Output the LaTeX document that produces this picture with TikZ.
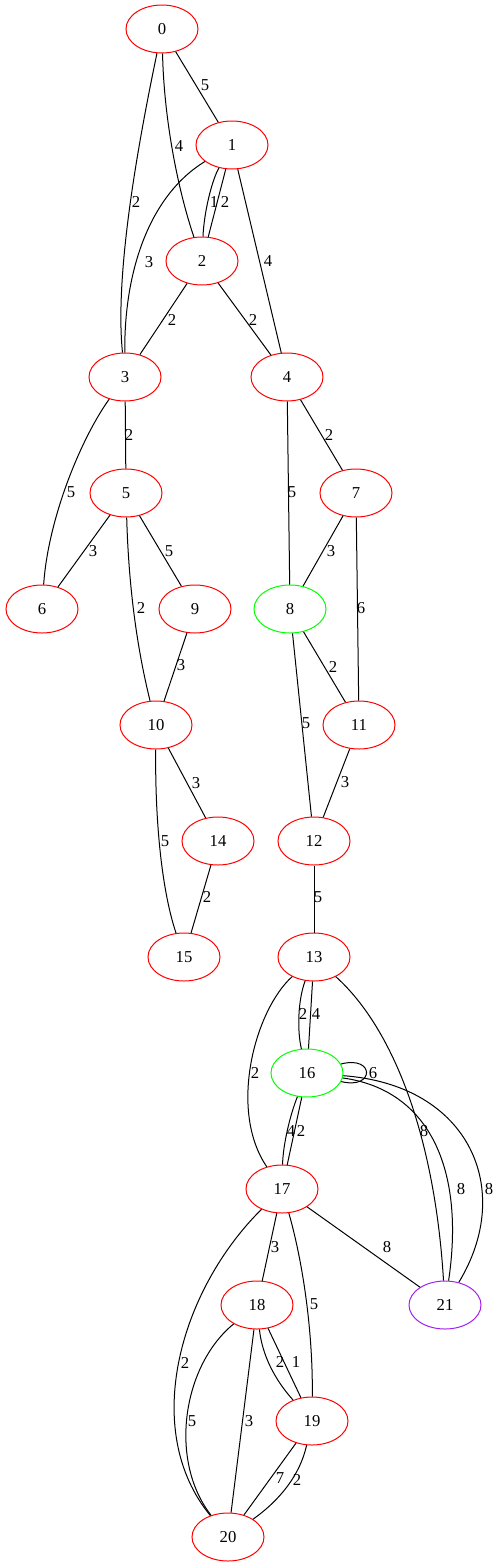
\documentclass[tikz,border=0pt]{standalone}
\usepackage{fontspec}
\setmainfont{Liberation Serif}
\usetikzlibrary{shapes.geometric}
\definecolor{gvred}{HTML}{FF0000}
\definecolor{gvgreen}{HTML}{00FF00}
\definecolor{gvpurple}{HTML}{A020F0}
\tikzset{
  vtx/.style={ellipse, draw=gvred, line width=0.75pt, minimum width=54pt, minimum height=36pt, inner sep=0pt, font=\fontsize{12.5}{14}\selectfont},
  grn/.style={vtx, draw=gvgreen},
  pur/.style={vtx, draw=gvpurple},
  lbl/.style={inner sep=0pt, font=\fontsize{12.5}{14}\selectfont},
  edge/.style={line width=0.75pt, black}
}
\begin{document}
\begin{tikzpicture}[x=0.75pt,y=-0.75pt]
\useasboundingbox (0,0) rectangle (500,1567);
% nodes
\node[vtx] (n0) at (162,29) {0};
\node[vtx] (n1) at (232,145) {1};
\node[vtx] (n2) at (202,261) {2};
\node[vtx] (n3) at (125,377) {3};
\node[vtx] (n4) at (287,377) {4};
\node[vtx] (n5) at (126,493) {5};
\node[vtx] (n7) at (356,493) {7};
\node[vtx] (n6) at (42,609) {6};
\node[vtx] (n9) at (195,609) {9};
\node[grn] (n8) at (290,609) {8};
\node[vtx] (n10) at (156,725) {10};
\node[vtx] (n11) at (359,725) {11};
\node[vtx] (n14) at (218,841) {14};
\node[vtx] (n12) at (314,841) {12};
\node[vtx] (n15) at (184,957) {15};
\node[vtx] (n13) at (314,957) {13};
\node[grn] (n16) at (307,1073) {16};
\node[vtx] (n17) at (282,1189) {17};
\node[vtx] (n18) at (257,1305) {18};
\node[pur] (n21) at (445,1305) {21};
\node[vtx] (n19) at (312,1421) {19};
\node[vtx] (n20) at (228,1537) {20};
% edges
\draw[edge] (n0) -- (n1) node[lbl] at (205,85) {5};
\draw[edge] (n0) .. controls (164,120) and (178,190) .. (n2) node[lbl] at (179,146) {4};
\draw[edge] (n0) .. controls (141,130) and (114,270) .. (n3) node[lbl] at (136,202) {2};
\draw[edge] (n1) .. controls (212,180) and (204,212) .. (n2) node[lbl] at (214,202) {1};
\draw[edge] (n1) -- (n2) node[lbl] at (225,202) {2};
\draw[edge] (n1) .. controls (150,195) and (124,270) .. (n3) node[lbl] at (149,262) {3};
\draw[edge] (n1) -- (n4) node[lbl] at (268,261) {4};
\draw[edge] (n2) -- (n3) node[lbl] at (172,320) {2};
\draw[edge] (n2) -- (n4) node[lbl] at (253,320) {2};
\draw[edge] (n3) -- (n5) node[lbl] at (129,435) {2};
\draw[edge] (n3) .. controls (80,440) and (48,520) .. (n6) node[lbl] at (71,492) {5};
\draw[edge] (n5) -- (n6) node[lbl] at (93,551) {3};
\draw[edge] (n5) -- (n9) node[lbl] at (169,551) {5};
\draw[edge] (n5) .. controls (129,600) and (140,660) .. (n10) node[lbl] at (141,608) {2};
\draw[edge] (n9) -- (n10) node[lbl] at (181,665) {3};
\draw[edge] (n4) -- (n7) node[lbl] at (329,435) {2};
\draw[edge] (n4) -- (n8) node[lbl] at (292,492) {5};
\draw[edge] (n7) -- (n8) node[lbl] at (331,551) {3};
\draw[edge] (n7) -- (n11) node[lbl] at (361,608) {6};
\draw[edge] (n8) -- (n11) node[lbl] at (333,667) {2};
\draw[edge] (n8) -- (n12) node[lbl] at (306,723) {5};
\draw[edge] (n11) -- (n12) node[lbl] at (345,782) {3};
\draw[edge] (n10) -- (n14) node[lbl] at (196,783) {3};
\draw[edge] (n10) .. controls (155,810) and (160,885) .. (n15) node[lbl] at (165,841) {5};
\draw[edge] (n14) -- (n15) node[lbl] at (207,897) {2};
\draw[edge] (n12) -- (n13) node[lbl] at (318,897) {5};
\draw[edge] (n13) .. controls (298,1000) and (297,1030) .. (n16) node[lbl] at (303,1014) {2};
\draw[edge] (n13) -- (n16) node[lbl] at (316,1014) {4};
\draw[edge] (n13) .. controls (255,1010) and (228,1110) .. (n17) node[lbl] at (255,1073) {2};
\draw[edge] (n13) .. controls (395,1030) and (435,1140) .. (n21) node[lbl] at (424,1131) {8};
\draw[edge] (n16) .. controls (375,1055) and (375,1090) .. (n16) node[lbl] at (373,1073) {6};
\draw[edge] (n16) .. controls (430,1090) and (465,1170) .. (n21) node[lbl] at (461,1189) {8};
\draw[edge] (n16) .. controls (470,1085) and (515,1190) .. (n21) node[lbl] at (489,1189) {8};
\draw[edge] (n16) .. controls (290,1115) and (283,1145) .. (n17) node[lbl] at (291,1131) {4};
\draw[edge] (n16) -- (n17) node[lbl] at (301,1131) {2};
\draw[edge] (n17) -- (n18) node[lbl] at (275,1247) {3};
\draw[edge] (n17) .. controls (305,1270) and (313,1340) .. (n19) node[lbl] at (314,1304) {5};
\draw[edge] (n17) .. controls (180,1290) and (140,1430) .. (n20) node[lbl] at (185,1363) {2};
\draw[edge] (n17) -- (n21) node[lbl] at (387,1247) {8};
\draw[edge] (n18) .. controls (262,1355) and (275,1380) .. (n19) node[lbl] at (280,1362) {2};
\draw[edge] (n18) -- (n19) node[lbl] at (296,1362) {1};
\draw[edge] (n18) .. controls (183,1365) and (168,1460) .. (n20) node[lbl] at (192,1421) {5};
\draw[edge] (n18) -- (n20) node[lbl] at (249,1421) {3};
\draw[edge] (n19) -- (n20) node[lbl] at (280,1478) {7};
\draw[edge] (n19) .. controls (300,1475) and (280,1500) .. (n20) node[lbl] at (297,1480) {2};
\end{tikzpicture}
\end{document}
